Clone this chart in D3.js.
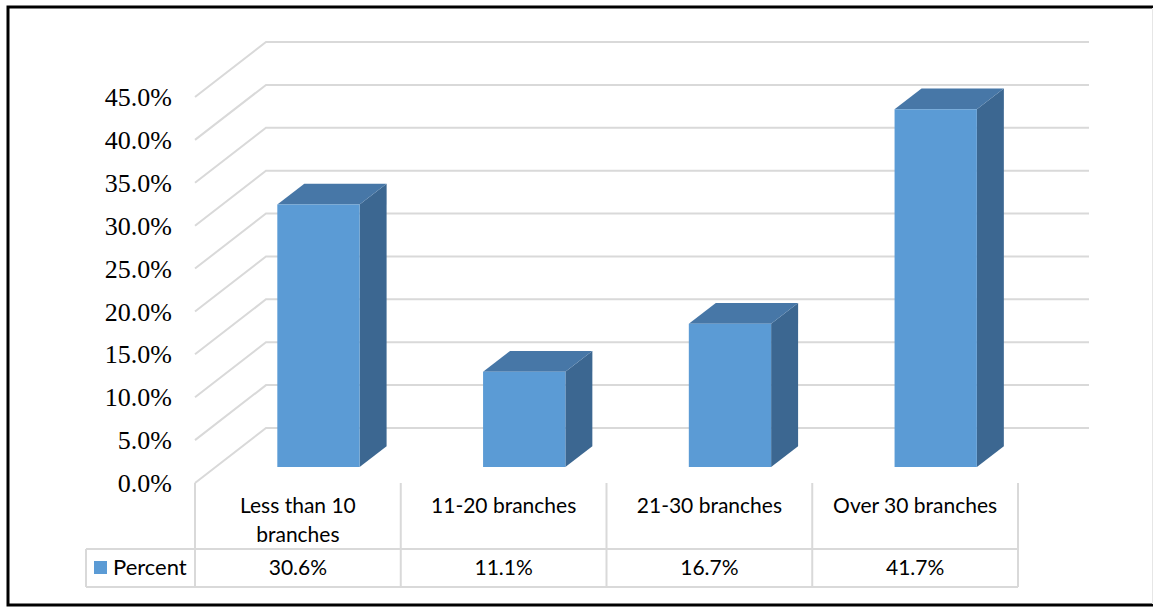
<!DOCTYPE html>
<html>
<head>
<meta charset="utf-8">
<script src="https://cdn.jsdelivr.net/npm/d3@7"></script>
<style>
  html, body { margin: 0; padding: 0; background: #fff; }
  svg { display: block; }
</style>
</head>
<body>
<svg id="chart" width="1153" height="607"></svg>
<script>
// ---- data ----
const categories = [["Less than 10", "branches"], ["11-20 branches"], ["21-30 branches"], ["Over 30 branches"]];
const categoryKeys = ["Less than 10 branches", "11-20 branches", "21-30 branches", "Over 30 branches"];
const seriesName = "Percent";
const percentValues = [30.6, 11.1, 16.7, 41.7];
const tableLabels = ["30.6%", "11.1%", "16.7%", "41.7%"];
const tickValues = [0, 5, 10, 15, 20, 25, 30, 35, 40, 45];

// ---- layout ----
const svg = d3.select("#chart");
const frontLeft = 195, frontRight = 1018;
const depthDX = 71, depthDY = 55;       // full floor depth offset
const barF1 = 0.29, barF2 = 0.67;        // bar front/back depth fractions

const y = d3.scaleLinear().domain([0, 45]).range([483, 97]);
const xCat = d3.scaleBand().domain(categoryKeys).range([frontLeft, frontRight]).padding(0);
const xBar = d3.scaleBand().domain(categoryKeys).range([frontLeft, frontRight]).paddingInner(0.6).paddingOuter(0.3);

const P = (xf, v, f) => [xf + f * depthDX, y(v) - f * depthDY];

const grid = "#d9d9d9";

// outer border (black top/left/bottom, faint right edge)
svg.append("path").attr("d", "M1153,7L8,7L8,605L1153,605")
  .attr("fill", "none").attr("stroke", "#000").attr("stroke-width", 3);
svg.append("line").attr("x1", 1152.5).attr("x2", 1152.5).attr("y1", 8).attr("y2", 604)
  .attr("stroke", "#e6e6e6").attr("stroke-width", 1);

// gridlines: side wall diagonal + back wall horizontal
const g = svg.append("g");
tickValues.forEach(t => {
  const a = P(frontLeft, t, 0), b = P(frontLeft, t, 1), c = P(frontRight, t, 1);
  g.append("path").attr("d", `M${a[0]},${a[1]}L${b[0]},${b[1]}L${c[0]},${c[1]}`)
    .attr("fill", "none").attr("stroke", grid).attr("stroke-width", 2);
});

// y axis labels
svg.append("g").selectAll("text").data(tickValues).join("text")
  .attr("x", 172).attr("y", d => y(d)).attr("dy", "0.35em")
  .attr("text-anchor", "end")
  .attr("font-family", "Liberation Serif, Times New Roman, serif")
  .attr("font-size", 26).attr("fill", "#000")
  .text(d => d3.format(".1f")(d) + "%");

// bars
const bars = svg.append("g");
percentValues.forEach((v, i) => {
  const x0 = xBar(categoryKeys[i]), x1 = x0 + xBar.bandwidth();
  const fbl = P(x0, 0, barF1), fbr = P(x1, 0, barF1), ftl = P(x0, v, barF1), ftr = P(x1, v, barF1);
  const btl = P(x0, v, barF2), btr = P(x1, v, barF2), bbr = P(x1, 0, barF2);
  const pts = arr => "M" + arr.map(p => p.join(",")).join("L") + "Z";
  bars.append("path").attr("d", pts([fbr, ftr, btr, bbr])).attr("fill", "#3c6791");
  bars.append("path").attr("d", pts([ftl, btl, btr, ftr])).attr("fill", "#4777a7");
  bars.append("path").attr("d", pts([fbl, ftl, ftr, fbr])).attr("fill", "#5b9bd5");
});

// data table
const tbl = svg.append("g").attr("stroke", grid).attr("stroke-width", 2);
const rowTop = 483, rowMid = 549, rowBot = 587, legendLeft = 86;
tbl.append("line").attr("x1", legendLeft).attr("x2", frontRight).attr("y1", rowMid).attr("y2", rowMid);
tbl.append("line").attr("x1", legendLeft).attr("x2", frontRight).attr("y1", rowBot).attr("y2", rowBot);
tbl.append("line").attr("x1", legendLeft).attr("x2", legendLeft).attr("y1", rowMid).attr("y2", rowBot);
const edges = categoryKeys.map(k => xCat(k)).concat([frontRight]);
edges.forEach(xe => tbl.append("line").attr("x1", xe).attr("x2", xe).attr("y1", rowTop).attr("y2", rowBot));

const tf = "Lato, 'Open Sans', sans-serif";
categories.forEach((lines, i) => {
  const cx = xCat(categoryKeys[i]) + xCat.bandwidth() / 2;
  lines.forEach((ln, j) => {
    svg.append("text").attr("x", cx).attr("y", 506 + j * 29).attr("dy", "0.35em")
      .attr("text-anchor", "middle").style("font-family", tf).style("font-size", "21px")
      .attr("fill", "#000").text(ln);
  });
  svg.append("text").attr("x", cx).attr("y", 568).attr("dy", "0.35em")
    .attr("text-anchor", "middle").style("font-family", tf).style("font-size", "21px")
    .attr("fill", "#000").text(tableLabels[i]);
});
svg.append("rect").attr("x", 94).attr("y", 561).attr("width", 13).attr("height", 13).attr("fill", "#5b9bd5");
svg.append("text").attr("x", 113).attr("y", 567).attr("dy", "0.35em")
  .style("font-family", tf).style("font-size", "22px").attr("fill", "#000").text(seriesName);
</script>
</body>
</html>
